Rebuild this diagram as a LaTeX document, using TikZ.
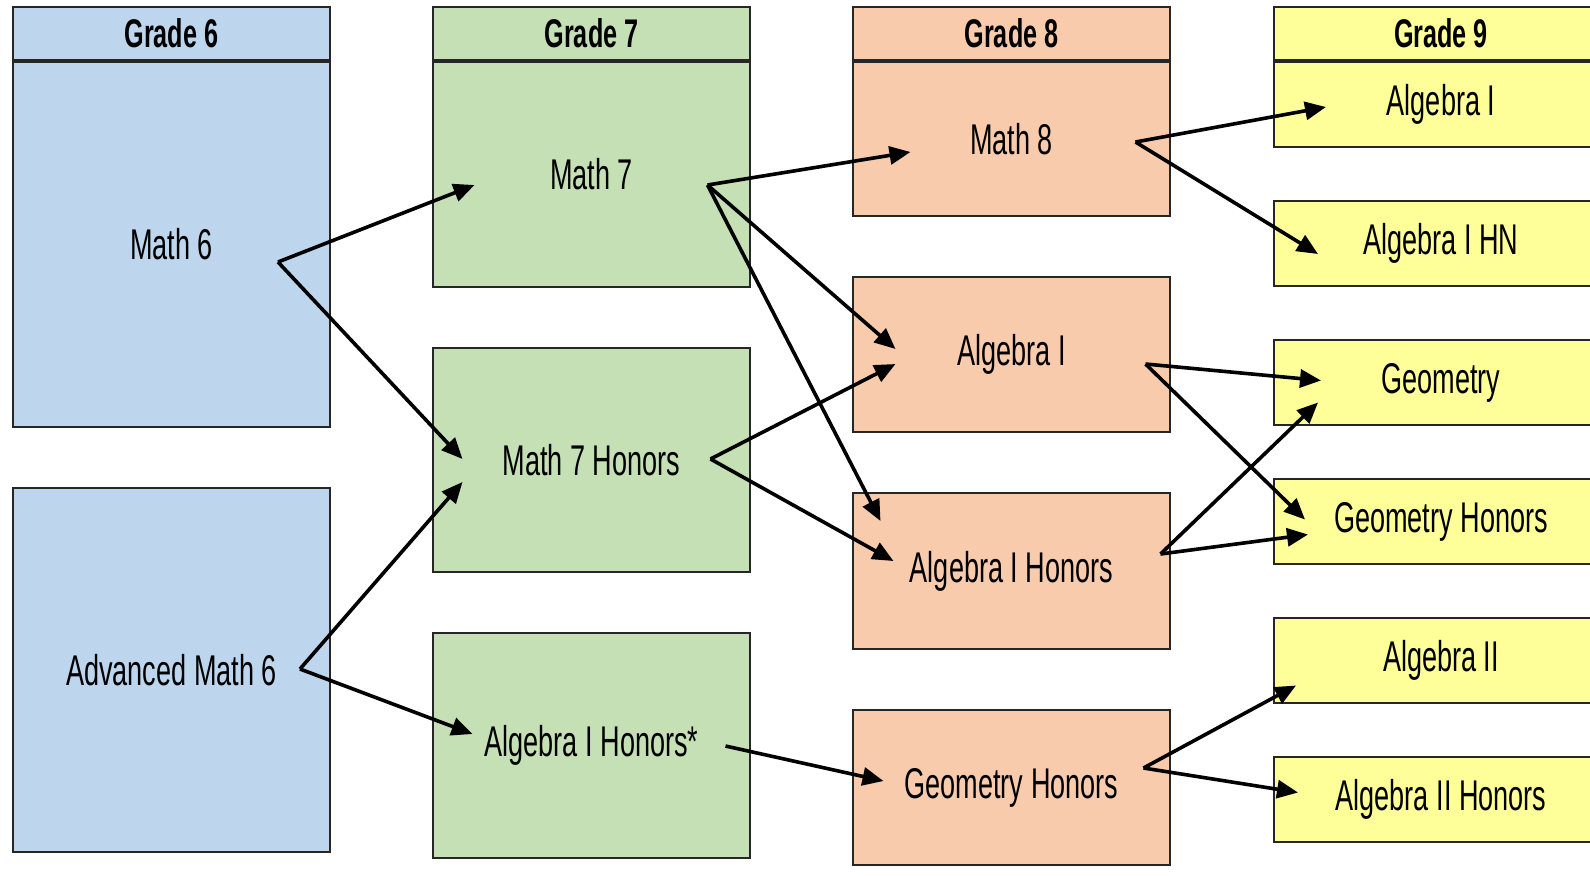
\documentclass[tikz,border=0pt]{standalone}
\usepackage{fontspec}
\setmainfont{Liberation Sans}[FakeStretch=0.63]
\usetikzlibrary{arrows.meta,positioning,calc}

\definecolor{sixblue}{RGB}{189,214,238}
\definecolor{sevengreen}{RGB}{197,224,180}
\definecolor{eightsalmon}{RGB}{248,203,173}
\definecolor{nineyellow}{RGB}{255,255,153}

\begin{document}
\begin{tikzpicture}[x=0.5pt,y=-0.5pt,->,>={Triangle[length=10.5pt,width=9pt]},line width=1.8pt,node distance=29.5pt]

    \tikzstyle{course}=[draw=black!85,line width=1pt,rectangle,minimum width=158.5pt,text=black,inner sep=0pt,font=\fontsize{21.5}{24}\selectfont]
    \tikzstyle{grade}=[course,minimum height=26.5pt,font=\bfseries\fontsize{20}{22}\selectfont]
    \tikzstyle{ninth}=[course,fill=nineyellow,minimum width=167pt,minimum height=42.5pt]

    \useasboundingbox[fill=white] (0,0) rectangle (1590,875);

    % headers
    \node[grade,fill=sixblue] (g6) at (171.5,33.5)          {Grade 6};
    \node[grade,fill=sevengreen] (g7) [right=50.5pt of g6]   {Grade 7};
    \node[grade,fill=eightsalmon] (g8) [right=50.5pt of g7]  {Grade 8};
    \node[grade,fill=nineyellow,minimum width=167pt] (g9) [right=51pt of g8] {Grade 9};

    % grade 6
    \node[course,fill=sixblue,minimum height=182.5pt] (m6) [below=0pt of g6] {Math 6};
    \node[course,fill=sixblue,minimum height=182pt] (am6) [below=of m6]      {Advanced Math 6};

    % grade 7
    \node[course,fill=sevengreen,minimum height=112.5pt] (m7) [below=0pt of g7] {Math 7};
    \node[course,fill=sevengreen,minimum height=112pt] (m7h) [below=of m7]      {Math 7 Honors};
    \node[course,fill=sevengreen,minimum height=112.5pt] (a7h) [below=of m7h]   {Algebra I Honors*};

    % grade 8
    \node[course,fill=eightsalmon,minimum height=77pt] (m8) [below=0pt of g8] {Math 8};
    \node[course,fill=eightsalmon,minimum height=77.5pt] (a8) [below=of m8]    {Algebra I};
    \node[course,fill=eightsalmon,minimum height=78pt] (a8h) [below=of a8]    {Algebra I Honors};
    \node[course,fill=eightsalmon,minimum height=77.5pt] (g8h) [below=of a8h] {Geometry Honors};

    % grade 9
    \node[ninth] (a9) [below=0pt of g9]        {Algebra I};
    \node[ninth] (a9h) [below=26pt of a9]      {Algebra I HN};
    \node[ninth] (geo9) [below=26pt of a9h]    {Geometry};
    \node[ninth] (geo9h) [below=26pt of geo9]  {Geometry Honors};
    \node[ninth] (a29) [below=26pt of geo9h]   {Algebra II};
    \node[ninth] (a29h) [below=26pt of a29]    {Algebra II Honors};

    % arrow ends
    \coordinate (m6-o) at ($(m6.center)+(106.5,17.5)$);
    \coordinate (am6-o) at ($(am6.center)+(128.5,-1)$);
    \coordinate (m7-i) at ($(m7.center)+(-117,10.5)$);
    \coordinate (m7-o) at ($(m7.center)+(116,10.5)$);
    \coordinate (m7h-i1) at ($(m7h.center)+(-129,-1)$);
    \coordinate (m7h-i2) at ($(m7h.center)+(-129,22)$);
    \coordinate (m7h-o) at ($(m7h.center)+(119,-1)$);
    \coordinate (a7h-i) at ($(a7h.center)+(-119,-11.5)$);
    \coordinate (a7h-o) at ($(a7h.center)+(134,0.5)$);
    \coordinate (m8-i) at ($(m8.center)+(-101,13)$);
    \coordinate (m8-o) at ($(m8.center)+(124,3)$);
    \coordinate (a8-i1) at ($(a8.center)+(-116,-5.5)$);
    \coordinate (a8-i2) at ($(a8.center)+(-116,9.5)$);
    \coordinate (a8-o) at ($(a8.center)+(134,9.5)$);
    \coordinate (a8h-i1) at ($(a8h.center)+(-131,-50)$);
    \coordinate (a8h-i2) at ($(a8h.center)+(-118,-10)$);
    \coordinate (a8h-o) at ($(a8h.center)+(149,-17)$);
    \coordinate (g8h-i) at ($(g8h.center)+(-128,-6.5)$);
    \coordinate (g8h-o) at ($(g8h.center)+(132,-19.5)$);
    \coordinate (a9-i) at ($(a9.center)+(-115,2.5)$);
    \coordinate (a9h-i) at ($(a9h.center)+(-123,10.5)$);
    \coordinate (geo9-i1) at ($(geo9.center)+(-120,-2)$);
    \coordinate (geo9-i2) at ($(geo9.center)+(-123,20)$);
    \coordinate (geo9h-i1) at ($(geo9h.center)+(-136,-2)$);
    \coordinate (geo9h-i2) at ($(geo9h.center)+(-133,13)$);
    \coordinate (a29-i) at ($(a29.center)+(-145,25)$);
    \coordinate (a29h-i) at ($(a29h.center)+(-143,-7)$);

    \path (m6-o)  edge (m7-i)
                  edge (m7h-i1)
          (am6-o) edge (m7h-i2)
                  edge (a7h-i)
          (m7-o)  edge (m8-i)
                  edge (a8-i1)
                  edge (a8h-i1)
          (m7h-o) edge (a8-i2)
                  edge (a8h-i2)
          (a7h-o) edge (g8h-i)
          (m8-o)  edge (a9-i)
                  edge (a9h-i)
          (a8-o)  edge (geo9-i1)
                  edge (geo9h-i1)
          (a8h-o) edge (geo9-i2)
                  edge (geo9h-i2)
          (g8h-o) edge (a29-i)
                  edge (a29h-i);
\end{tikzpicture}
\end{document}
